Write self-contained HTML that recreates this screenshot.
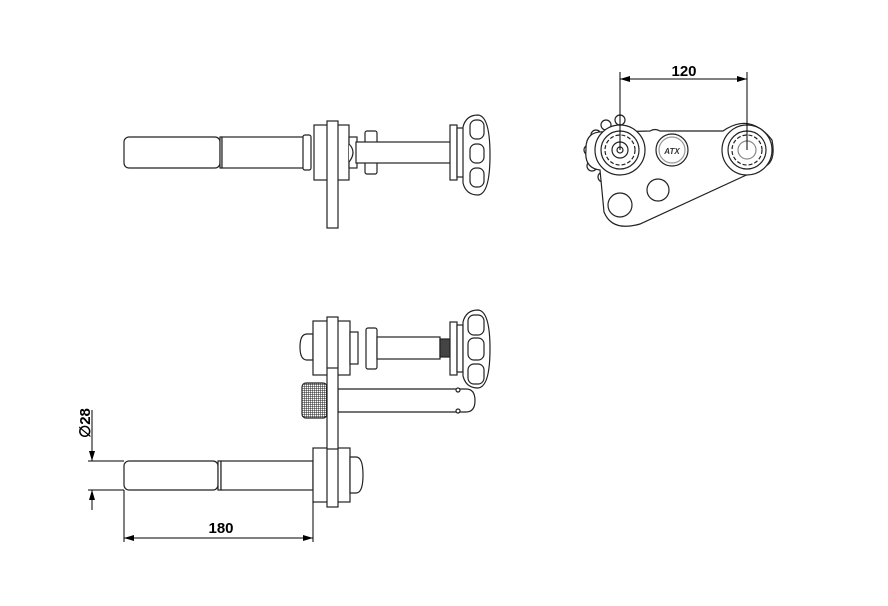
<!DOCTYPE html>
<html><head><style>body{margin:0;background:#fff}svg{display:block}</style></head><body>
<svg width="888" height="606" viewBox="0 0 888 606" xmlns="http://www.w3.org/2000/svg" font-family="Liberation Sans, sans-serif">
<defs>
<marker id="a" markerWidth="10" markerHeight="6" refX="10" refY="3" orient="auto-start-reverse" markerUnits="userSpaceOnUse"><path d="M0,0 L10,3 L0,6 Z" fill="#000"/></marker>
<pattern id="k" width="2" height="2" patternUnits="userSpaceOnUse"><rect width="2" height="2" fill="#fff"/><path d="M0,0H2M0,0V2" stroke="#222" stroke-width="1"/></pattern>
</defs>
<g fill="#fff" stroke="#222" stroke-width="1.2">
<!-- TOP VIEW -->
<rect x="124" y="137" width="96" height="31" rx="5"/>
<rect x="220" y="137" width="2" height="31"/>
<rect x="222" y="137" width="84" height="31"/>
<rect x="303" y="135" width="8" height="35" rx="2"/>
<rect x="314" y="125" width="35" height="55"/>
<rect x="327" y="121" width="11" height="107"/>
<rect x="349" y="137" width="8" height="31"/>
<path d="M349,144 q8,8 0,18"/>
<rect x="365" y="131" width="12" height="43" rx="2"/>
<rect x="356" y="142" width="110" height="21"/>
<circle cx="458" cy="154" r="2.5"/>
<rect x="450" y="125" width="7" height="55"/>
<rect x="457" y="128" width="8" height="49"/>
<path d="M463,127 Q466,115 478,115 Q490,116 490,155 Q490,194 478,195 Q466,195 463,183 Z"/>
<rect x="470" y="120" width="14" height="19" rx="6"/>
<rect x="470" y="144" width="14" height="19" rx="6"/>
<rect x="470" y="168" width="14" height="19" rx="6"/>
<!-- TOP RIGHT -->
<g>
<circle cx="596" cy="135" r="5"/><circle cx="589" cy="150" r="5"/><circle cx="592" cy="166" r="5"/>
<circle cx="603" cy="177" r="5"/><circle cx="606" cy="125" r="5"/><circle cx="620" cy="120" r="5"/>
</g>
<path d="M606,132 L650,131 Q655,128 660,131 L723,131 Q750,112 772,140 Q776,160 766,166 L640,224 Q612,232 604,212 L600,170 Q584,168 586,150 Q585,130 606,132 Z"/>
<circle cx="620" cy="150" r="25"/>
<circle cx="620" cy="150" r="19"/>
<circle cx="620" cy="150" r="15" stroke-dasharray="4 2"/>
<circle cx="620" cy="150" r="8"/>
<circle cx="620" cy="150" r="3"/>
<circle cx="747" cy="150" r="25"/>
<circle cx="747" cy="150" r="19"/>
<circle cx="747" cy="150" r="15" stroke-dasharray="4 2"/>
<circle cx="747" cy="150" r="9" stroke="#888"/>
<circle cx="672" cy="150" r="16"/>
<circle cx="672" cy="150" r="13" stroke="#999"/>
<circle cx="658" cy="190" r="11"/>
<circle cx="620" cy="205" r="12"/>
<!-- BOTTOM VIEW -->
<path d="M313,334 h-6 q-7,0 -7,13 q0,13 7,13 h6 Z"/>
<rect x="313" y="321" width="37" height="54"/>
<rect x="350" y="332" width="8" height="32"/>
<rect x="366" y="328" width="11" height="41" rx="2"/>
<rect x="377" y="337" width="63" height="22"/>
<rect x="440" y="339" width="10" height="18" fill="#444"/>
<rect x="450" y="322" width="7" height="53"/>
<rect x="457" y="325" width="6" height="47"/>
<path d="M463,322 Q466,310 478,310 Q490,311 490,349 Q490,387 478,388 Q466,388 463,376 Z"/>
<rect x="468" y="315" width="16" height="20" rx="6"/>
<rect x="468" y="338" width="16" height="22" rx="6"/>
<rect x="468" y="364" width="16" height="20" rx="6"/>
<rect x="302" y="383" width="25" height="35" rx="4" fill="url(#k)"/>
<path d="M338,389 H466 q9,0 9,11.5 q0,11.5 -9,11.5 H338 Z"/>
<circle cx="458" cy="390" r="2"/>
<circle cx="458" cy="411" r="2"/>
<rect x="124" y="461" width="94" height="29" rx="5"/>
<rect x="218" y="461" width="3" height="29"/>
<rect x="221" y="461" width="92" height="29"/>
<rect x="313" y="448" width="37" height="54"/>
<path d="M350,457 h6 q7,0 7,18 q0,18 -7,18 h-6 Z"/>
<rect x="327" y="317" width="11" height="190"/>
<line x1="327" y1="368" x2="338" y2="368"/><line x1="327" y1="449" x2="338" y2="449"/>
</g>
<!-- dimensions -->
<g stroke="#000" stroke-width="1" fill="none">
<line x1="620" y1="72" x2="620" y2="150"/><line x1="747" y1="72" x2="747" y2="150"/>
<line x1="620" y1="79" x2="747" y2="79" marker-start="url(#a)" marker-end="url(#a)"/>
<line x1="124" y1="490" x2="124" y2="542"/><line x1="313" y1="502" x2="313" y2="542"/>
<line x1="124" y1="538" x2="313" y2="538" marker-start="url(#a)" marker-end="url(#a)"/>
<line x1="88" y1="461" x2="124" y2="461"/><line x1="88" y1="490" x2="124" y2="490"/>
<line x1="92" y1="410" x2="92" y2="461" marker-end="url(#a)"/>
<line x1="92" y1="510" x2="92" y2="490" marker-end="url(#a)"/>
</g>
<g font-weight="bold" font-size="15" fill="#000" text-anchor="middle">
<text x="684" y="76">120</text>
<text x="221" y="533">180</text>
<text transform="translate(90,423) rotate(-90)">∅28</text>
</g>
<text x="672" y="154" font-size="8" font-style="italic" font-weight="bold" text-anchor="middle" fill="#333">ATX</text>
</svg>
</body></html>
